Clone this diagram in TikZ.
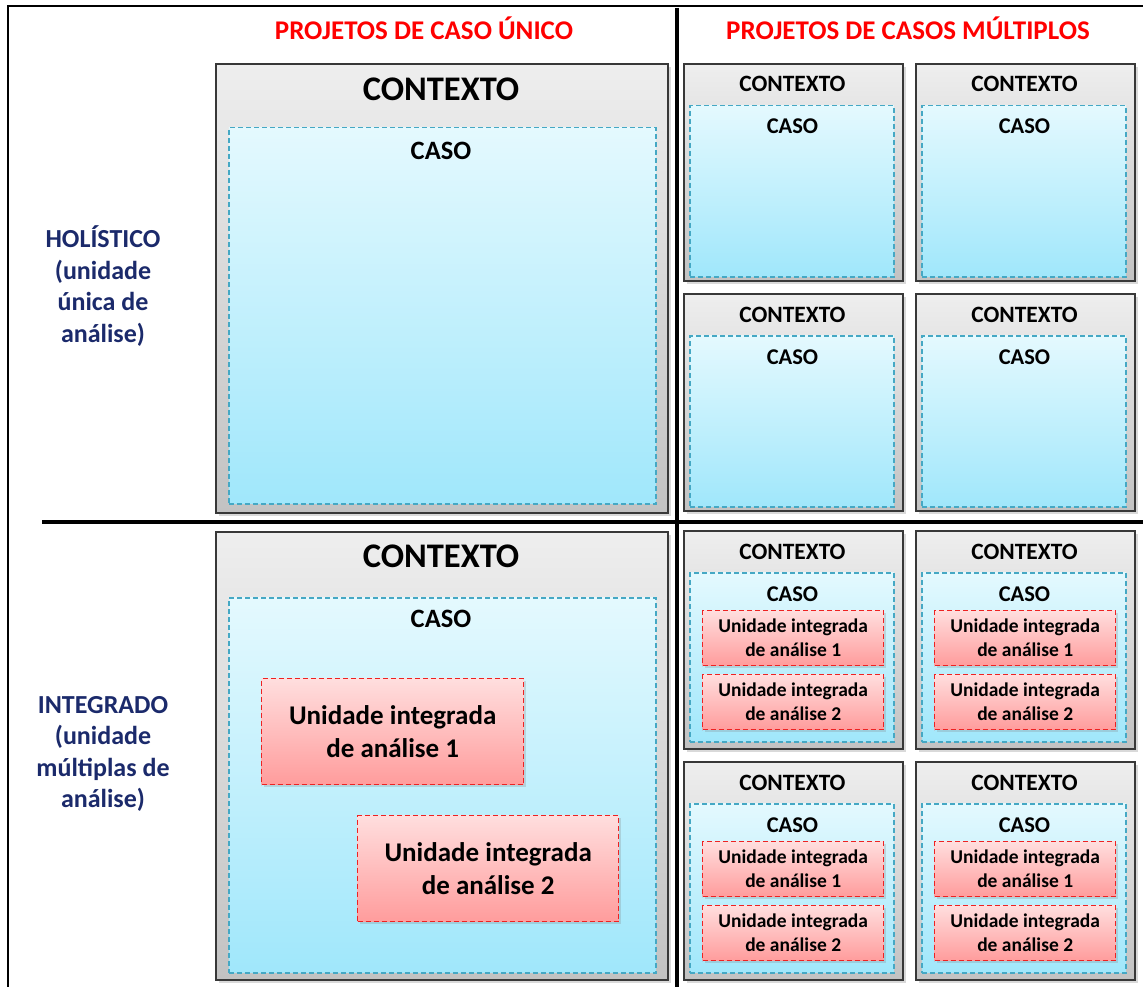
\documentclass[tikz,border=0pt]{standalone}
\usepackage{fontspec}
\setmainfont{Carlito}
\usetikzlibrary{shadows}

\definecolor{titlered}{HTML}{FF0000}
\definecolor{labelblue}{HTML}{1B2A6B}
\definecolor{ctxline}{HTML}{383838}
\definecolor{ctxtop}{HTML}{EEEEEE}
\definecolor{ctxbottom}{HTML}{C2C2C2}
\definecolor{casoline}{HTML}{45A8C4}
\definecolor{casotop}{HTML}{E4F9FE}
\definecolor{casobottom}{HTML}{A0E7FB}
\definecolor{unitline}{HTML}{EE2222}
\definecolor{unittop}{HTML}{FFDEDE}
\definecolor{unitbottom}{HTML}{FF9C9C}

\tikzset{
	ctxbox/.style={draw=ctxline, line width=1.8pt, top color=ctxtop, bottom color=ctxbottom,
		anchor=north west, inner sep=0pt,
		drop shadow={shadow xshift=3pt, shadow yshift=-3pt, opacity=0.3}},
	casobox/.style={draw=casoline, dash pattern=on 5pt off 3pt, line width=1.5pt,
		top color=casotop, bottom color=casobottom, anchor=north west, inner sep=0pt},
	unitbox/.style={draw=unitline, dash pattern=on 5pt off 3pt, line width=1.4pt,
		top color=unittop, bottom color=unitbottom, anchor=north west, inner sep=0pt,
		align=center, drop shadow={shadow xshift=2pt, shadow yshift=-2pt, opacity=0.25}},
	headtext/.style={anchor=base, text=titlered, font=\fontsize{27}{32}\selectfont\bfseries},
	sidetext/.style={anchor=center, align=center, text=labelblue, font=\fontsize{26}{31.5}\selectfont\bfseries},
	bigctx/.style={anchor=base, font=\fontsize{34.5}{40}\selectfont\bfseries},
	bigcaso/.style={anchor=base, font=\fontsize{26.5}{32}\selectfont\bfseries},
	smallctx/.style={anchor=base, font=\fontsize{23.4}{28}\selectfont\bfseries},
	smallcaso/.style={anchor=base, font=\fontsize{22.5}{27}\selectfont\bfseries},
}

\begin{document}
\begin{tikzpicture}[x=1pt, y=-1pt]
	\useasboundingbox (0,0) rectangle (1143,987);

	% frame and dividers
	\draw [line width=2pt] (8,987) -- (8,6) -- (1143,6);
	\draw [line width=3.5pt] (677,8) -- (677,987);
	\draw [line width=3.5pt] (42,522) -- (1143,522);

	% column and row titles
	\node [headtext] (titleunico) at (424,40) {PROJETOS DE CASO ÚNICO};
	\node [headtext] (titlemulti) at (908,40) {PROJETOS DE CASOS MÚLTIPLOS};
	\node [sidetext] (holistico) at (103,286) {HOLÍSTICO\\(unidade\\única de\\análise)};
	\node [sidetext] (integrado) at (103,754) {INTEGRADO\\(unidade\\múltiplas de\\análise)};

	% single case, holistic
	\node [ctxbox, minimum width=452pt, minimum height=449pt] (ctxH) at (215,63) {};
	\node [casobox, minimum width=427pt, minimum height=376pt] (casoH) at (228,127) {};
	\node [bigctx] (ctxHt) at (441,101) {CONTEXTO};
	\node [bigcaso] (casoHt) at (441,159.5) {CASO};

	% single case, embedded
	\node [ctxbox, minimum width=452pt, minimum height=448pt] (ctxI) at (215,531) {};
	\node [casobox, minimum width=427pt, minimum height=375pt] (casoI) at (228,597) {};
	\node [bigctx] (ctxIt) at (441,567) {CONTEXTO};
	\node [bigcaso] (casoIt) at (441,627.5) {CASO};
	\node [unitbox, minimum width=262pt, minimum height=106pt,
		font=\fontsize{27}{33}\selectfont\bfseries] (unitI1) at (261,678)
		{Unidade integrada\\de análise 1};
	\node [unitbox, minimum width=261pt, minimum height=106pt,
		font=\fontsize{27}{33}\selectfont\bfseries] (unitI2) at (357,815)
		{Unidade integrada\\de análise 2};

	% multiple cases, holistic
	\foreach \cx/\col in {683/a, 915/b}
		\foreach \ty/\row in {63/1, 293/2} {
			\node [ctxbox, minimum width=219pt, minimum height=217pt] (ctx\col\row) at (\cx,\ty) {};
			\node [casobox, minimum width=204pt, minimum height=171pt] (caso\col\row) at (\cx+6,\ty+42) {};
			\node [smallctx] (ctx\col\row t) at (\cx+109.5,\ty+29) {CONTEXTO};
			\node [smallcaso] (caso\col\row t) at (\cx+109.5,\ty+71) {CASO};
		}

	% multiple cases, embedded
	\foreach \cx/\col in {683/a, 915/b}
		\foreach \ty/\row in {530/3, 761/4} {
			\node [ctxbox, minimum width=219pt, minimum height=218pt] (ctx\col\row) at (\cx,\ty) {};
			\node [casobox, minimum width=204pt, minimum height=169pt] (caso\col\row) at (\cx+6,\ty+42) {};
			\node [smallctx] (ctx\col\row t) at (\cx+109.5,\ty+29) {CONTEXTO};
			\node [smallcaso] (caso\col\row t) at (\cx+109.5,\ty+71) {CASO};
			\node [unitbox, minimum width=181pt, minimum height=55pt,
				font=\fontsize{19.5}{24}\selectfont\bfseries] (unit\col\row a) at (\cx+19,\ty+80)
				{Unidade integrada\\de análise 1};
			\node [unitbox, minimum width=181pt, minimum height=55pt,
				font=\fontsize{19.5}{24}\selectfont\bfseries] (unit\col\row b) at (\cx+19,\ty+144)
				{Unidade integrada\\de análise 2};
		}

\end{tikzpicture}
\end{document}
